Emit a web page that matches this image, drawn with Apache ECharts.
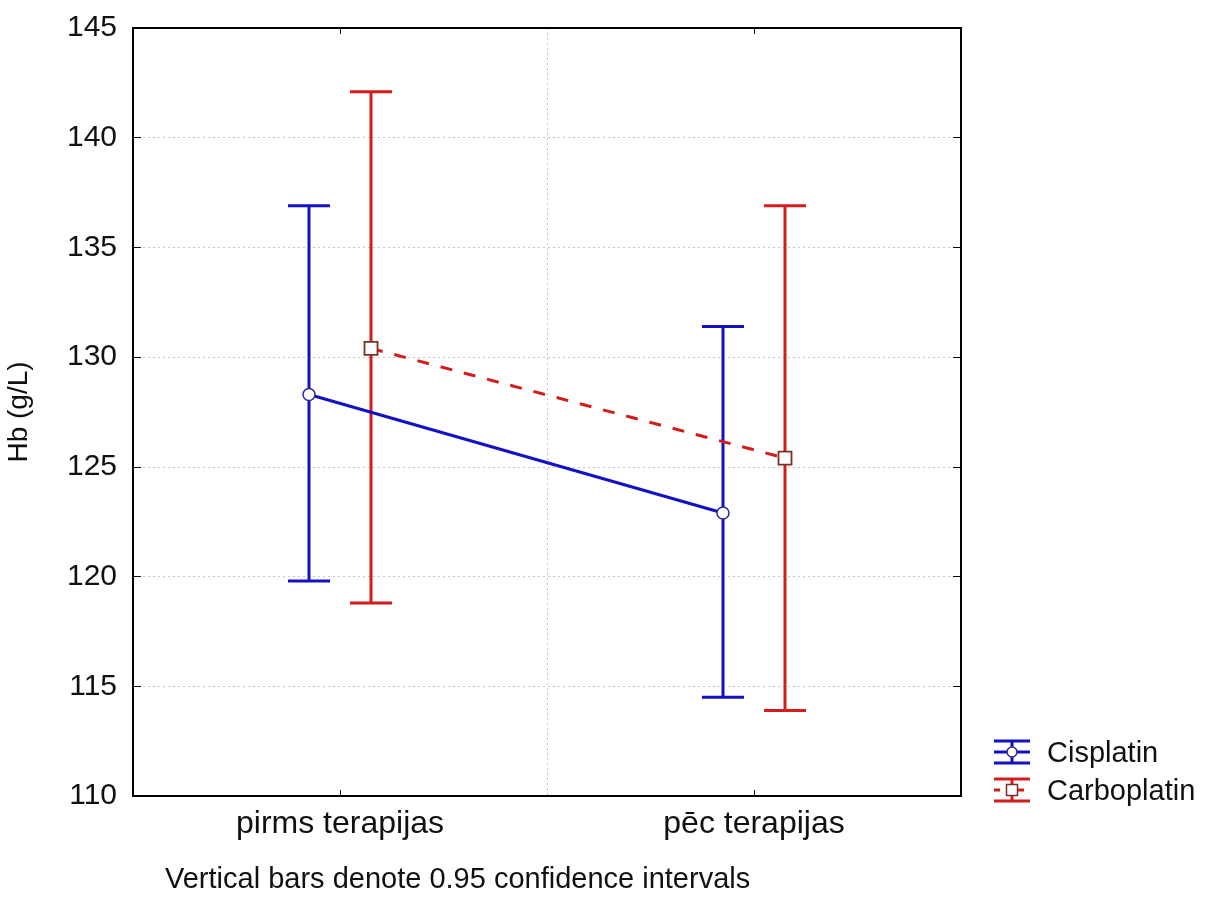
<!DOCTYPE html>
<html>
<head>
<meta charset="utf-8">
<script src="https://cdn.jsdelivr.net/npm/echarts@6/dist/echarts.min.js"></script>
<style>
html,body{margin:0;padding:0;background:#fff;}
#chart{width:1219px;height:902px;}
</style>
</head>
<body>
<div id="chart"></div>
<script>
// ---- data ----
const categories = ['pirms terapijas', 'pēc terapijas'];
const seriesNames = ['Cisplatin', 'Carboplatin'];
const cisMean = [128.3, 122.9];
const cisLow  = [119.8, 114.5];
const cisHigh = [136.9, 131.4];
const carMean = [130.4, 125.4];
const carLow  = [118.8, 113.9];
const carHigh = [142.1, 136.9];
const yMin = 110, yMax = 145, yStep = 5;
const yAxisName = 'Hb (g/L)';
const footnote = 'Vertical bars denote 0.95 confidence intervals';

// ---- styles ----
const BLUE = '#1212C4';
const RED = '#D41C1C';
const FONT = 'Liberation Sans, Arial, sans-serif';
const OFFSET = 31;   // pixel offset of each group from the category center
const CAP = 21;      // half cap width

const chart = echarts.init(document.getElementById('chart'));

function rows(m, lo, hi) { return m.map((v, i) => [i, v, lo[i], hi[i]]); }

function errorBars(color, dx) {
  return function (params, api) {
    const i = api.value(0);
    const top = api.coord([i, api.value(3)]);
    const bot = api.coord([i, api.value(2)]);
    const x = top[0] + dx;
    const st = { stroke: color, lineWidth: 3 };
    return {
      type: 'group', children: [
        { type: 'line', shape: { x1: x, y1: top[1], x2: x, y2: bot[1] }, style: st },
        { type: 'line', shape: { x1: x - CAP, y1: top[1], x2: x + CAP, y2: top[1] }, style: st },
        { type: 'line', shape: { x1: x - CAP, y1: bot[1], x2: x + CAP, y2: bot[1] }, style: st }
      ]
    };
  };
}

function meanLine(color, dx, means, dashed, marker) {
  return function (params, api) {
    const i = api.value(0);
    const p = api.coord([i, api.value(1)]);
    const x = p[0] + dx, y = p[1];
    const children = [];
    if (i + 1 < means.length) {
      const q = api.coord([i + 1, means[i + 1]]);
      children.push({
        type: 'line', z2: 1,
        shape: { x1: x, y1: y, x2: q[0] + dx, y2: q[1] },
        style: { stroke: color, lineWidth: 3, lineDash: dashed ? [12, 12] : null }
      });
    }
    if (marker === 'circle') {
      children.push({ type: 'circle', z2: 5, shape: { cx: x, cy: y, r: 6 },
        style: { fill: '#fff', stroke: '#2a2a9a', lineWidth: 1.5 } });
    } else {
      children.push({ type: 'rect', z2: 5, shape: { x: x - 6.5, y: y - 6.5, width: 13, height: 13 },
        style: { fill: '#fff', stroke: '#7a3228', lineWidth: 1.8 } });
    }
    return { type: 'group', children };
  };
}

const gridLine = { show: true, lineStyle: { color: '#c4c4c4', type: [2, 3], width: 1 } };

function legendIcon(x, y, color, dashed, marker) {
  const st = { stroke: color, lineWidth: 3 };
  const items = [
    { type: 'line', shape: { x1: x, y1: y - 11, x2: x + 36, y2: y - 11 }, style: st },
    { type: 'line', shape: { x1: x, y1: y + 11, x2: x + 36, y2: y + 11 }, style: st },
    { type: 'line', shape: { x1: x + 18, y1: y - 11, x2: x + 18, y2: y + 11 }, style: st },
    { type: 'line', shape: { x1: x, y1: y, x2: x + 36, y2: y },
      style: { stroke: color, lineWidth: 3, lineDash: dashed ? [6, 6] : null } }
  ];
  if (marker === 'circle') {
    items.push({ type: 'circle', shape: { cx: x + 18, cy: y, r: 5 }, style: { fill: '#fff', stroke: '#2a2a9a', lineWidth: 1.5 } });
  } else {
    items.push({ type: 'rect', shape: { x: x + 12.5, y: y - 5.5, width: 11, height: 11 }, style: { fill: '#fff', stroke: '#7a3228', lineWidth: 1.5 } });
  }
  return items;
}

const option = {
  backgroundColor: '#fff',
  animation: false,
  grid: { left: 133, top: 28, width: 828, height: 768, show: true, borderColor: '#000', borderWidth: 2,
          backgroundColor: 'transparent', containLabel: false, outerBoundsMode: 'none' },
  xAxis: [
    {
      type: 'category', data: categories, position: 'bottom', boundaryGap: true,
      axisLine: { show: true, lineStyle: { color: '#000', width: 2 } },
      axisTick: { show: true, inside: true, alignWithLabel: true, length: 6, lineStyle: { color: '#000' } },
      axisLabel: { color: '#111', fontSize: 32, fontFamily: FONT, margin: 12 },
      splitLine: gridLine
    },
    {
      type: 'category', data: categories, position: 'top', boundaryGap: true,
      axisLine: { show: true, lineStyle: { color: '#000', width: 2 } },
      axisTick: { show: true, inside: true, alignWithLabel: true, length: 6, lineStyle: { color: '#000' } },
      axisLabel: { show: false }, splitLine: { show: false }
    }
  ],
  yAxis: [
    {
      type: 'value', min: yMin, max: yMax, interval: yStep, position: 'left',
      name: yAxisName, nameLocation: 'middle', nameGap: 100, nameRotate: 90,
      nameTextStyle: { color: '#111', fontSize: 28, fontFamily: FONT },
      axisLine: { show: true, lineStyle: { color: '#000', width: 2 } },
      axisTick: { show: true, inside: true, length: 8, lineStyle: { color: '#000' } },
      axisLabel: { color: '#111', fontSize: 30, fontFamily: FONT, margin: 16 },
      splitLine: gridLine
    },
    {
      type: 'value', min: yMin, max: yMax, interval: yStep, position: 'right',
      axisLine: { show: true, lineStyle: { color: '#000', width: 2 } },
      axisTick: { show: true, inside: true, length: 8, lineStyle: { color: '#000' } },
      axisLabel: { show: false }, splitLine: { show: false }
    }
  ],
  series: [
    { type: 'custom', name: seriesNames[0], z: 2, renderItem: errorBars(BLUE, -OFFSET), data: rows(cisMean, cisLow, cisHigh) },
    { type: 'custom', name: seriesNames[1], z: 2, renderItem: errorBars(RED, OFFSET), data: rows(carMean, carLow, carHigh) },
    { type: 'custom', name: seriesNames[0] + ' mean', z: 3, renderItem: meanLine(BLUE, -OFFSET, cisMean, false, 'circle'), data: rows(cisMean, cisLow, cisHigh) },
    { type: 'custom', name: seriesNames[1] + ' mean', z: 3, renderItem: meanLine(RED, OFFSET, carMean, true, 'square'), data: rows(carMean, carLow, carHigh) }
  ],
  graphic: [
    { type: 'text', x: 165, y: 880, style: { text: footnote, fill: '#111', font: '29px ' + FONT, verticalAlign: 'middle' } },
    ...legendIcon(994, 752, BLUE, false, 'circle'),
    ...legendIcon(994, 790, RED, true, 'square'),
    { type: 'text', x: 1047, y: 754, style: { text: seriesNames[0], fill: '#111', font: '29px ' + FONT, verticalAlign: 'middle' } },
    { type: 'text', x: 1047, y: 792, style: { text: seriesNames[1], fill: '#111', font: '29px ' + FONT, verticalAlign: 'middle' } }
  ]
};
chart.setOption(option);
</script>
</body>
</html>
